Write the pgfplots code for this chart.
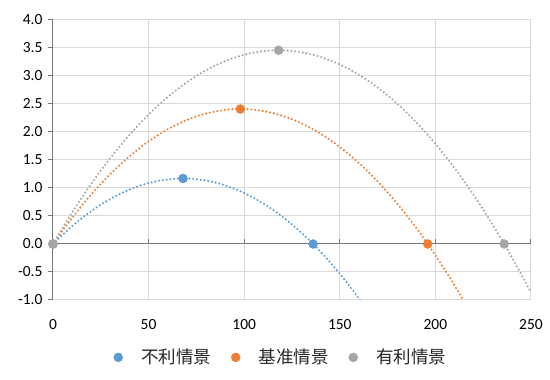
\documentclass[border=0pt]{standalone}
\usepackage{pgfplots}
\pgfplotsset{compat=1.18}
\usepackage{fontspec}
\setmainfont{Carlito}
\newfontfamily\cjk{Noto Sans CJK SC}
\definecolor{cblue}{HTML}{5B9BD5}
\definecolor{corange}{HTML}{ED7D31}
\definecolor{cgrey}{HTML}{A5A5A5}
\definecolor{gridc}{HTML}{D9D9D9}
\definecolor{axc}{HTML}{767676}
\begin{document}
\begin{tikzpicture}
\useasboundingbox (-53pt,-80pt) rectangle (497pt,300pt);
\begin{axis}[
  scale only axis, width=478pt, height=280pt,
  xmin=0, xmax=250, ymin=-1, ymax=4,
  xtick={0,50,...,250}, ytick={-1,-0.5,...,4},
  /pgf/number format/assume math mode=true,
  yticklabel style={/pgf/number format/.cd, fixed, fixed zerofill, precision=1},
  ticklabel style={font=\fontsize{15.5}{18}\selectfont, text=black},
  grid=major, major grid style={gridc, line width=1pt},
  axis x line*=bottom, axis y line*=left,
  x axis line style={draw=none},
  y axis line style={draw=axc, line width=1pt, -},
  xtick style={draw=none},
  ytick style={draw=axc, line width=1pt},
  tick align=outside, major tick length=5pt,
  xticklabel shift=11pt, yticklabel shift=2pt,
  clip=true,
  legend columns=3,
  legend style={at={(axis description cs:0.477,-0.205)}, anchor=center, draw=none,
    font=\cjk\fontsize{17.5}{20}\selectfont, text=black!85,
    /tikz/every odd column/.append style={column sep=16.5pt},
    /tikz/every even column/.append style={column sep=18pt}},
  legend cell align=left,
  legend image code/.code={\draw[#1, mark size=4.5pt] plot coordinates {(0cm,0cm)};},
]
\draw[axc, line width=1pt] (axis cs:0,0) -- (axis cs:250,0);
\pgfplotsinvokeforeach{50,100,150,200,250}{\draw[axc, line width=1pt] (axis cs:#1,0) -- ([yshift=5pt]axis cs:#1,0);}
\pgfplotsset{curve/.style={smooth, line width=2.3pt, line cap=round, dash pattern=on 0pt off 3.8pt, forget plot, no markers}}
\addplot[curve, cblue] coordinates {(0,0) (8,0.259) (16,0.486) (24,0.680) (32,0.842) (40,0.972) (48,1.069) (56,1.133) (64,1.166) (68,1.170) (72,1.166) (80,1.133) (88,1.069) (96,0.972) (104,0.842) (112,0.680) (120,0.486) (128,0.259) (136,0) (144,-0.291) (152,-0.615) (160,-0.972) (161,-1.018)};
\addplot[curve, corange] coordinates {(0,0) (10,0.467) (20,0.884) (30,1.250) (40,1.566) (50,1.832) (60,2.048) (70,2.214) (80,2.329) (90,2.395) (98,2.411) (106,2.395) (116,2.329) (126,2.214) (136,2.048) (146,1.832) (156,1.566) (166,1.250) (176,0.884) (186,0.467) (196,0) (206,-0.517) (214,-0.967) (216,-1.084)};
\addplot[curve, cgrey] coordinates {(0,0) (10,0.562) (20,1.074) (30,1.536) (40,1.948) (50,2.311) (60,2.624) (70,2.888) (80,3.101) (90,3.265) (100,3.380) (110,3.444) (118,3.460) (126,3.444) (136,3.380) (146,3.265) (156,3.101) (166,2.888) (176,2.624) (186,2.311) (196,1.948) (206,1.536) (216,1.074) (226,0.562) (236,0) (246,-0.611) (250,-0.870)};
\addplot[only marks, mark=*, mark size=4.5pt, cblue, mark options={draw=cblue, fill=cblue}] coordinates {(0,0) (68,1.17) (136,0)};
\addlegendentry{不利情景}
\addplot[only marks, mark=*, mark size=4.5pt, corange, mark options={draw=corange, fill=corange}] coordinates {(0,0) (98,2.41) (196,0)};
\addlegendentry{基准情景}
\addplot[only marks, mark=*, mark size=4.5pt, cgrey, mark options={draw=cgrey, fill=cgrey}] coordinates {(0,0) (118,3.46) (236,0)};
\addlegendentry{有利情景}
\end{axis}
\end{tikzpicture}
\end{document}
